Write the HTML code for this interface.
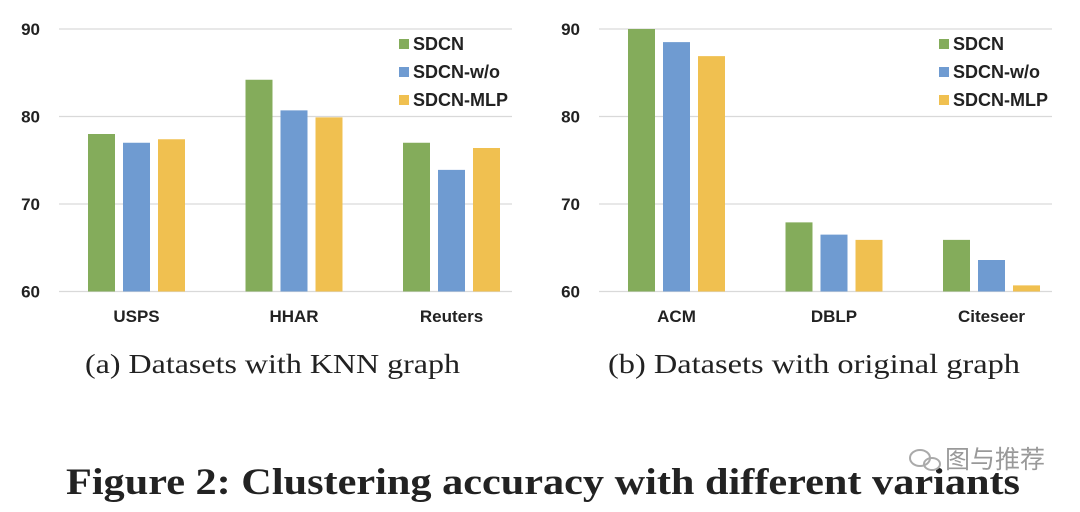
<!DOCTYPE html>
<html><head><meta charset="utf-8"><style>
body{margin:0;background:#fff;width:1080px;height:507px;overflow:hidden;font-family:"Liberation Sans",sans-serif}
svg text{font-family:"Liberation Sans","Noto Sans CJK SC",sans-serif}
</style></head><body>
<svg id="fig" width="1080" height="507" xmlns="http://www.w3.org/2000/svg">
<g id="chartA"></g>
<g id="chartB"></g>
<text x="85" y="373" textLength="375" lengthAdjust="spacingAndGlyphs" font-size="27" style="font-family:'Liberation Serif',serif" fill="#222">(a)  Datasets with KNN graph</text>
<text x="608" y="373" textLength="412" lengthAdjust="spacingAndGlyphs" font-size="27" style="font-family:'Liberation Serif',serif" fill="#222">(b)  Datasets with original graph</text>
<text x="66" y="494" textLength="954" lengthAdjust="spacingAndGlyphs" font-size="37" font-weight="bold" style="font-family:'Liberation Serif',serif" fill="#222">Figure 2: Clustering accuracy with different variants</text>
<g fill="#999">
<ellipse cx="920" cy="458" rx="10" ry="8" fill="none" stroke="#aaa" stroke-width="2"/>
<ellipse cx="932" cy="464" rx="8" ry="6" fill="none" stroke="#aaa" stroke-width="2"/>
<text x="945" y="468" font-size="25" fill="#999">图与推荐</text>
</g>
</svg>
<script>
const categoriesA = ["USPS","HHAR","Reuters"];
const sdcnA = [78.0, 84.2, 77.0];
const sdcnWoA = [77.0, 80.7, 73.9];
const sdcnMlpA = [77.4, 79.9, 76.4];
const categoriesB = ["ACM","DBLP","Citeseer"];
const sdcnB = [90.0, 67.9, 65.9];
const sdcnWoB = [88.5, 66.5, 63.6];
const sdcnMlpB = [86.9, 65.9, 60.7];
const yTicks = [60, 70, 80, 90];
const seriesNames = ["SDCN","SDCN-w/o","SDCN-MLP"];
const colors = ["#84ac5b","#6f9bd1","#f0c050"];
const NS = "http://www.w3.org/2000/svg";
function mk(tag, attrs, parent){const e=document.createElementNS(NS,tag);for(const k in attrs)e.setAttribute(k,attrs[k]);parent.appendChild(e);return e;}
function draw(g, ox, cats, series){
  const x0=ox+59, x1=ox+512, yMin=60, yMax=90, yb=291.5, yt=29;
  const y=v=>yb-(v-yMin)/(yMax-yMin)*(yb-yt);
  const cx=i=>ox+136.5+157.5*i;
  yTicks.forEach(t=>{
    const l=mk("line",{x1:x0,x2:x1,y1:y(t),y2:y(t),stroke:"#d9d9d9","stroke-width":1.2},g);
    
    
    const tx=mk("text",{x:ox+40,y:y(t)+6,"text-anchor":"end","font-size":17,"font-weight":"bold",fill:"#222"},g);
    tx.textContent=t;
    
    
  });
  const bw=27, pitch=35;
  cats.forEach((c,i)=>{
    series.forEach((s,j)=>{
      const v=Math.min(s[i],yMax);
      const r=mk("rect",{x:cx(i)+(j-1)*pitch-bw/2,y:y(v),width:bw,height:yb-y(v),fill:colors[j]},g);
      
      
    });
    const t=mk("text",{x:cx(i),y:322,"text-anchor":"middle","font-size":17,"font-weight":"bold",fill:"#222"},g);
    t.textContent=c;
    
    
  });
  seriesNames.forEach((n,j)=>{
    const yy=44+j*28;
    const sq=mk("rect",{x:ox+399,y:yy-5,width:10,height:10,fill:colors[j]},g);
    
    
    const t=mk("text",{x:ox+413,y:yy+6,"font-size":18,"font-weight":"bold",fill:"#222"},g);
    t.textContent=n;
    
    
  });
}
draw(document.getElementById("chartA"),0,categoriesA,[sdcnA,sdcnWoA,sdcnMlpA]);
draw(document.getElementById("chartB"),540,categoriesB,[sdcnB,sdcnWoB,sdcnMlpB]);
</script>
</body></html>
